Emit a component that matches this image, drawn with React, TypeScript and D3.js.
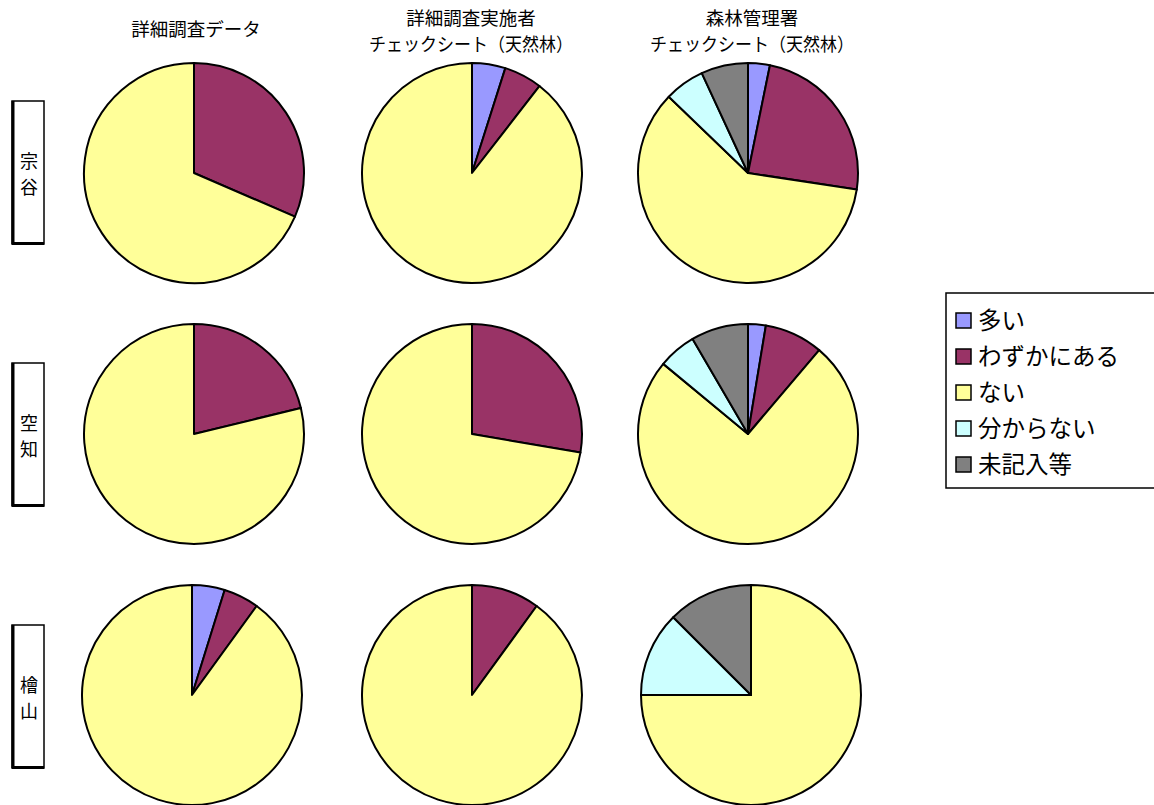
import React from "react";
import * as d3 from "d3";

const categories = ["多い", "わずかにある", "ない", "分からない", "未記入等"];
const colors = ["#9999FF", "#993366", "#FFFF99", "#CCFFFF", "#808080"];
const columnTitles = [
  ["詳細調査データ"],
  ["詳細調査実施者", "チェックシート（天然林）"],
  ["森林管理署", "チェックシート（天然林）"],
];
const regions = ["宗谷", "空知", "檜山"];

// values per column: [多い, わずかにある, ない, 分からない, 未記入等] (%)
const soyaValues = [
  [0, 31.5, 68.5, 0, 0],
  [4.9, 5.6, 89.5, 0, 0],
  [3.2, 24.2, 59.8, 5.9, 6.9],
];
const sorachiValues = [
  [0, 21.2, 78.8, 0, 0],
  [0, 27.7, 72.3, 0, 0],
  [2.6, 8.6, 74.8, 5.6, 8.4],
];
const hiyamaValues = [
  [4.8, 5.2, 90.0, 0, 0],
  [0, 10.0, 90.0, 0, 0],
  [0, 0, 75.0, 12.5, 12.5],
];
const allValues = [soyaValues, sorachiValues, hiyamaValues];

const colX = [194, 472, 748];
const titleX = [196, 471, 752];
const rowY = [173, 434, 695];
const radius = 110;
const font = "'Noto Sans CJK JP', 'Noto Sans', sans-serif";

export default function App() {
  const pie = d3
    .pie<number>()
    .sort(null)
    .value((d) => d)
    .startAngle(0)
    .endAngle(2 * Math.PI);
  const arc = d3.arc<d3.PieArcDatum<number>>().innerRadius(0).outerRadius(radius);

  const boxTop = [101, 363, 625];

  return (
    <svg
      width={1154}
      height={805}
      style={{ position: "absolute", left: 0, top: 0, background: "#fff" }}
    >
      {columnTitles.map((lines, ci) =>
        lines.map((l, li) => (
          <text
            key={`${ci}-${li}`}
            x={titleX[ci]}
            y={lines.length === 1 ? 36 : 25 + li * 26}
            textAnchor="middle"
            fontFamily={font}
            fontSize={18.5}
            fill="#000"
            textLength={li === 1 ? 204 : undefined}
            lengthAdjust="spacingAndGlyphs"
          >
            {l}
          </text>
        ))
      )}

      {regions.map((r, ri) => (
        <g key={r}>
          <rect
            x={12}
            y={boxTop[ri]}
            width={32}
            height={143}
            fill="#fff"
            stroke="#000"
            strokeWidth={1.5}
          />
          <line x1={13} y1={boxTop[ri]} x2={13} y2={boxTop[ri] + 143} stroke="#000" strokeWidth={3} />
          <line x1={12} y1={boxTop[ri] + 142.5} x2={44} y2={boxTop[ri] + 142.5} stroke="#000" strokeWidth={3} />
          {r.split("").map((ch, k) => (
            <text
              key={k}
              x={29}
              y={boxTop[ri] + 67 + k * 26}
              textAnchor="middle"
              fontFamily={font}
              fontSize={18}
            >
              {ch}
            </text>
          ))}
        </g>
      ))}

      {allValues.map((rowVals, ri) =>
        rowVals.map((vals, ci) => {
          const cx = ri === 2 && ci === 2 ? 751 : ri === 2 && ci === 0 ? 192 : colX[ci];
          const cy = rowY[ri];
          const arcs = pie(vals);
          return (
            <g key={`${ri}-${ci}`} transform={`translate(${cx},${cy})`}>
              {arcs.map((a, k) =>
                a.value > 0 ? (
                  <path
                    key={k}
                    d={arc(a) || ""}
                    fill={colors[k]}
                    stroke="#000"
                    strokeWidth={2}
                    strokeLinejoin="round"
                  />
                ) : null
              )}
            </g>
          );
        })
      )}

      <g>
        <rect x={946} y={293} width={215} height={195} fill="#fff" stroke="#000" strokeWidth={1.5} />
        {categories.map((c, i) => (
          <g key={c} transform={`translate(956, ${320.5 + i * 36})`}>
            <rect x={0} y={-7.5} width={15} height={15} fill={colors[i]} stroke="#000" strokeWidth={1.5} />
            <text x={22} y={0} dy="0.36em" fontFamily={font} fontSize={23.5} fill="#000">
              {c}
            </text>
          </g>
        ))}
      </g>
    </svg>
  );
}
